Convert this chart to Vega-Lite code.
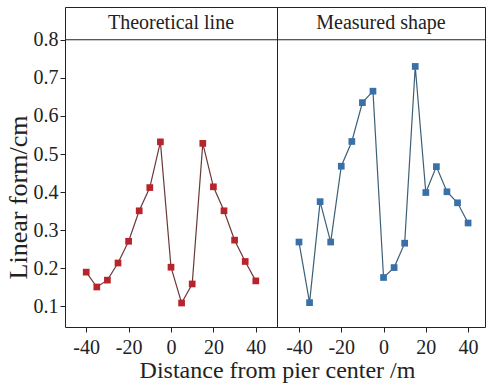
{
  "$schema": "https://vega.github.io/schema/vega-lite/v6.json",
  "padding": {"left": 4, "top": 6, "right": 1, "bottom": 0},
  "bounds": "flush",
  "datasets": {
    "theo": [
      {"x": -40, "y": 0.19}, {"x": -35, "y": 0.151}, {"x": -30, "y": 0.169}, {"x": -25, "y": 0.214},
      {"x": -20, "y": 0.271}, {"x": -15, "y": 0.351}, {"x": -10, "y": 0.412}, {"x": -5, "y": 0.532},
      {"x": 0, "y": 0.203}, {"x": 5, "y": 0.109}, {"x": 10, "y": 0.159}, {"x": 15, "y": 0.528},
      {"x": 20, "y": 0.414}, {"x": 25, "y": 0.351}, {"x": 30, "y": 0.274}, {"x": 35, "y": 0.218},
      {"x": 40, "y": 0.167}
    ],
    "meas": [
      {"x": -40, "y": 0.269}, {"x": -35, "y": 0.11}, {"x": -30, "y": 0.375}, {"x": -25, "y": 0.269},
      {"x": -20, "y": 0.468}, {"x": -15, "y": 0.533}, {"x": -10, "y": 0.635}, {"x": -5, "y": 0.665},
      {"x": 0, "y": 0.176}, {"x": 5, "y": 0.202}, {"x": 10, "y": 0.266}, {"x": 15, "y": 0.73},
      {"x": 20, "y": 0.399}, {"x": 25, "y": 0.467}, {"x": 30, "y": 0.401}, {"x": 35, "y": 0.372},
      {"x": 40, "y": 0.319}
    ],
    "hdr1": [{"t": "Theoretical line"}],
    "hdr2": [{"t": "Measured shape"}]
  },
  "config": {
    "font": "Liberation Serif",
    "view": {"stroke": "#222", "strokeWidth": 1},
    "axis": {
      "labelFont": "Liberation Serif", "titleFont": "Liberation Serif",
      "labelFontSize": 20, "titleFontSize": 24, "titleFontWeight": "normal",
      "labelColor": "#222", "titleColor": "#222", "tickColor": "#222",
      "grid": false, "domain": false, "tickSize": 5
    }
  },
  "spacing": 0,
  "hconcat": [
    {
      "width": 212, "height": 320,
      "layer": [
        {
          "data": {"name": "theo"},
          "mark": {"type": "line", "color": "#6a3a3a", "strokeWidth": 1.2},
          "encoding": {
            "x": {"field": "x", "type": "quantitative", "scale": {"domain": [-50, 50], "nice": false},
              "axis": {"title": "Distance from pier center /m", "titleX": 212, "titleAnchor": "middle", "titlePadding": 1,
                "values": [-40, -30, -20, -10, 0, 10, 20, 30, 40],
                "labelExpr": "datum.value % 20 == 0 ? replace(datum.label, '\u2212', '-') : ''", "labelPadding": 5}},
            "y": {"field": "y", "type": "quantitative", "scale": {"domain": [0.046, 0.886], "nice": false, "zero": false},
              "axis": {"title": "Linear form/cm", "titleFontSize": 26, "titleY": 190, "titlePadding": 2,
                "values": [0.1, 0.15, 0.2, 0.25, 0.3, 0.35, 0.4, 0.45, 0.5, 0.55, 0.6, 0.65, 0.7, 0.75, 0.8],
                "labelExpr": "round(datum.value*100) % 10 == 0 ? format(datum.value, '.1f') : ''"}}
          }
        },
        {
          "data": {"name": "theo"},
          "mark": {"type": "point", "shape": "square", "filled": true, "color": "#b8242c", "size": 45, "opacity": 1},
          "encoding": {
            "x": {"field": "x", "type": "quantitative"},
            "y": {"field": "y", "type": "quantitative"}
          }
        },
        {
          "data": {"name": "hdr1"},
          "mark": {"type": "rule", "color": "#222", "strokeWidth": 1},
          "encoding": {"y": {"datum": 0.8, "type": "quantitative"}}
        },
        {
          "data": {"name": "hdr1"},
          "mark": {"type": "text", "fontSize": 20, "color": "#222", "font": "Liberation Serif"},
          "encoding": {
            "x": {"datum": 0, "type": "quantitative"},
            "y": {"datum": 0.843, "type": "quantitative"},
            "text": {"field": "t", "type": "nominal"}
          }
        }
      ]
    },
    {
      "width": 208, "height": 320,
      "layer": [
        {
          "data": {"name": "meas"},
          "mark": {"type": "line", "color": "#3d5f75", "strokeWidth": 1.2},
          "encoding": {
            "x": {"field": "x", "type": "quantitative", "scale": {"domain": [-50.4, 48], "nice": false},
              "axis": {"title": null, "values": [-40, -30, -20, -10, 0, 10, 20, 30, 40],
                "labelExpr": "datum.value % 20 == 0 ? replace(datum.label, '\u2212', '-') : ''", "labelPadding": 5}},
            "y": {"field": "y", "type": "quantitative", "scale": {"domain": [0.046, 0.886], "nice": false, "zero": false}, "axis": null}
          }
        },
        {
          "data": {"name": "meas"},
          "mark": {"type": "point", "shape": "square", "filled": true, "color": "#3a70a8", "size": 45, "opacity": 1},
          "encoding": {
            "x": {"field": "x", "type": "quantitative"},
            "y": {"field": "y", "type": "quantitative"}
          }
        },
        {
          "data": {"name": "hdr2"},
          "mark": {"type": "rule", "color": "#222", "strokeWidth": 1},
          "encoding": {"y": {"datum": 0.8, "type": "quantitative"}}
        },
        {
          "data": {"name": "hdr2"},
          "mark": {"type": "text", "fontSize": 20, "color": "#222", "font": "Liberation Serif"},
          "encoding": {
            "x": {"datum": -1.2, "type": "quantitative"},
            "y": {"datum": 0.843, "type": "quantitative"},
            "text": {"field": "t", "type": "nominal"}
          }
        }
      ]
    }
  ]
}
